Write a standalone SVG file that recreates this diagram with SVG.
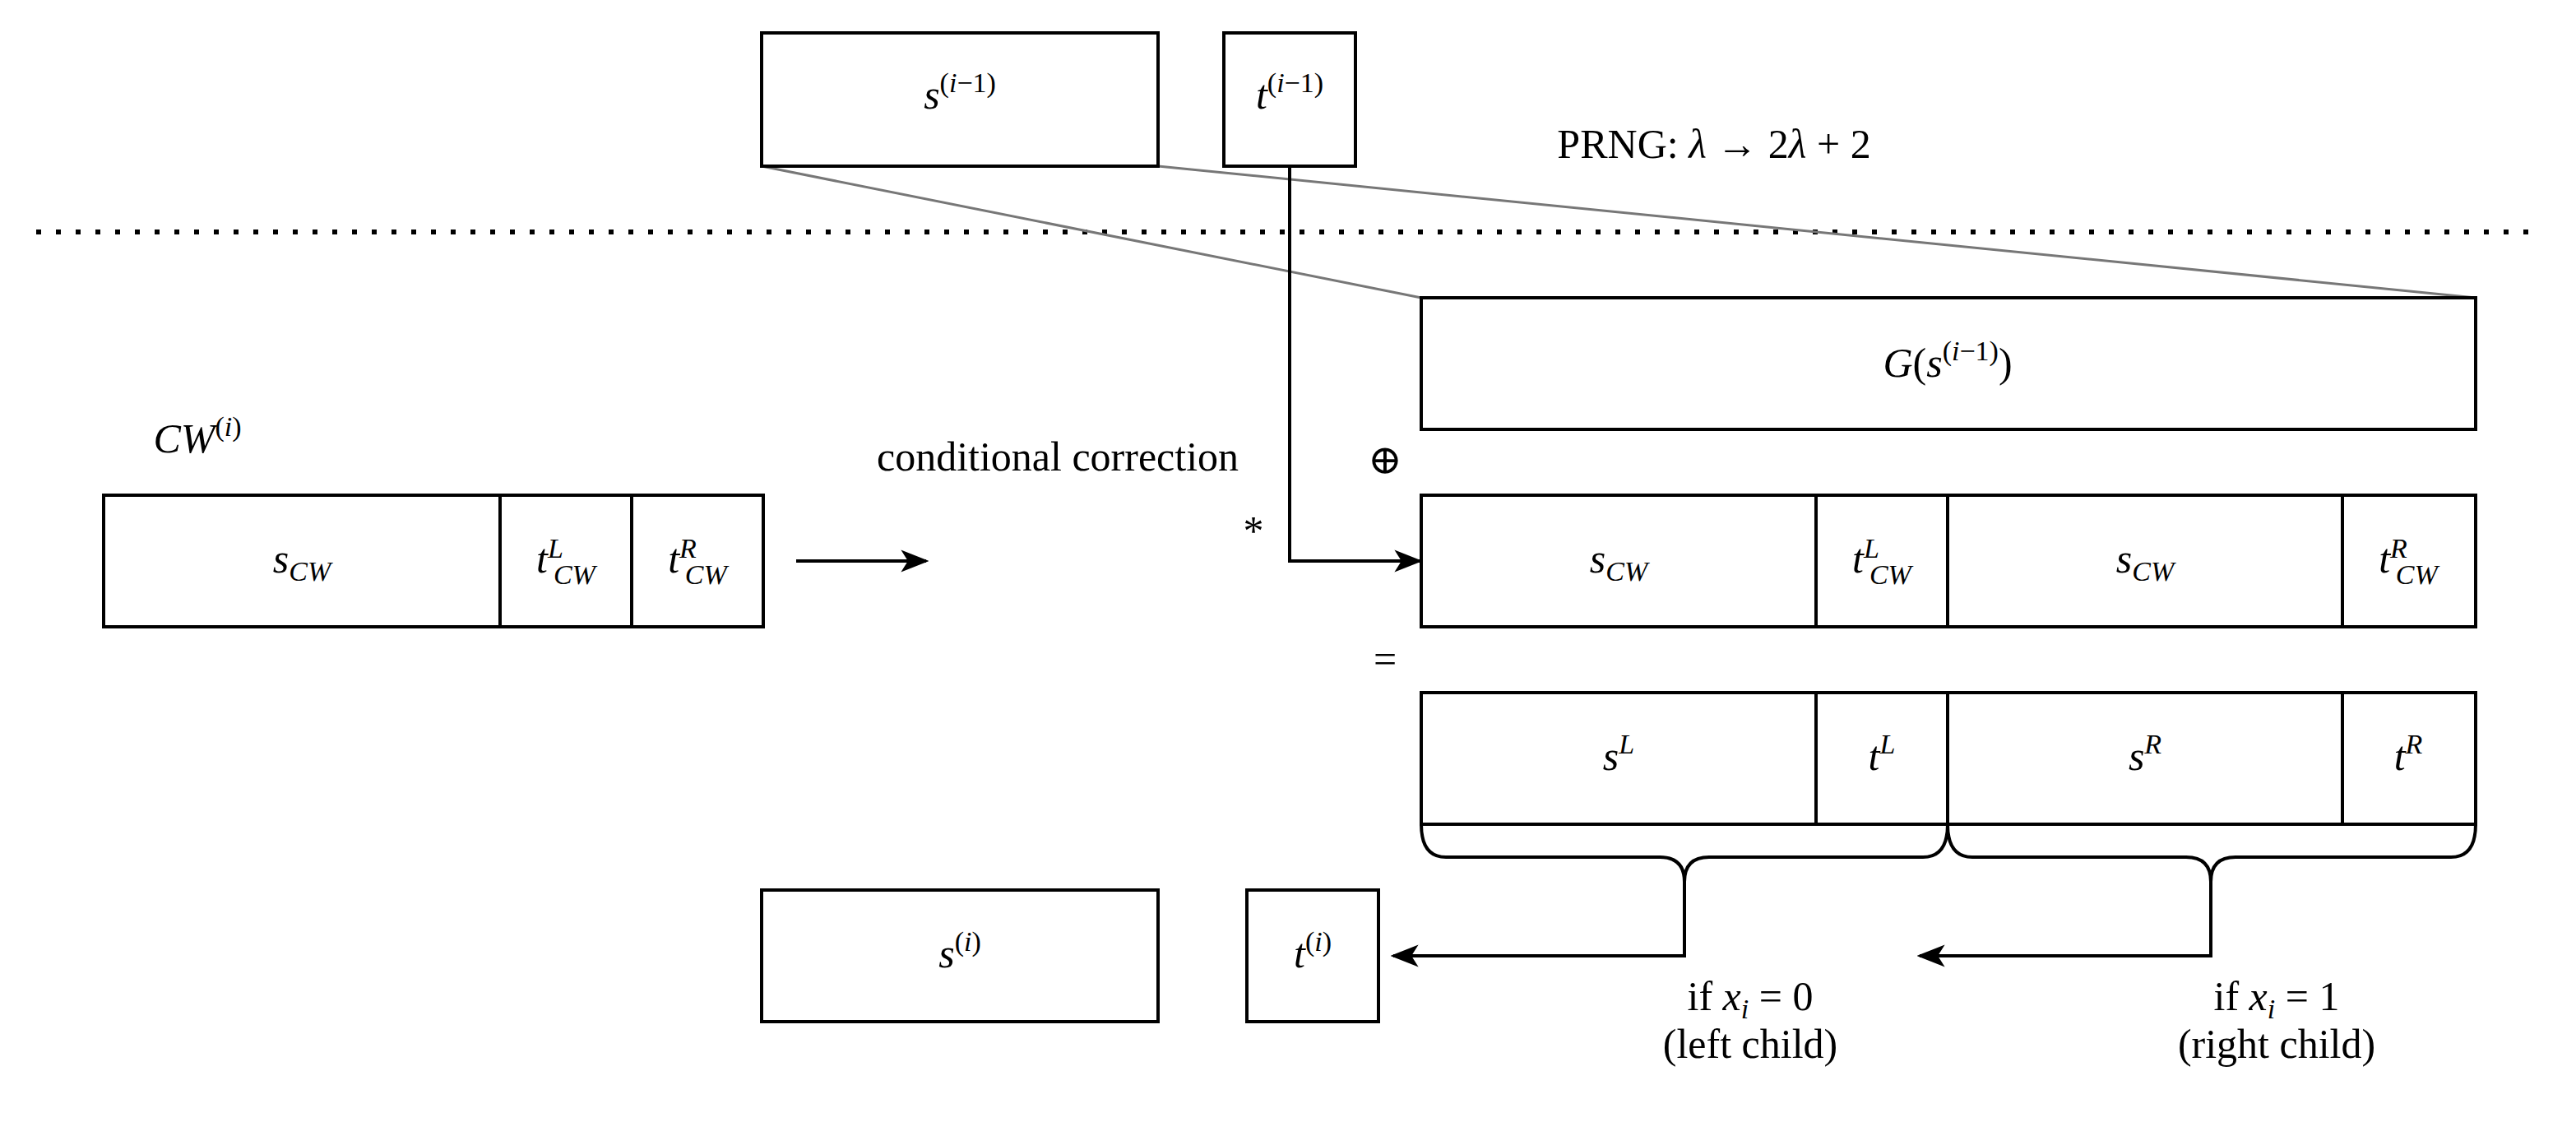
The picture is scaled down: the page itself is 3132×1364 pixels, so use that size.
<svg xmlns="http://www.w3.org/2000/svg" width="3132" height="1364" viewBox="0 0 3132 1364">
<style>
.b{fill:#fff;stroke:#000;stroke-width:4}
.d{stroke:#000;stroke-width:4;fill:none}
text{font-family:"Liberation Serif","DejaVu Serif",serif;font-size:50px;text-anchor:middle;fill:#000}
.i{font-style:italic}
.s{font-size:34px}
</style>
<defs><marker id="a" markerWidth="10" markerHeight="10" refX="9" refY="5" orient="auto" markerUnits="userSpaceOnUse" viewBox="0 0 10 10"><path d="M0,0L10,5L0,10L3,5Z" fill="#000" transform="scale(1)"/></marker>
<marker id="A" viewBox="0 0 20 20" markerWidth="34" markerHeight="34" refX="18" refY="10" orient="auto" markerUnits="userSpaceOnUse"><path d="M0,2L20,10L0,18L5,10Z" fill="#000"/></marker></defs>
<g id="connectors">
<line x1="44" y1="282" x2="3088" y2="282" stroke="#000" stroke-width="6" stroke-dasharray="6,18"/>
<line x1="926" y1="202" x2="1728" y2="362" stroke="#777" stroke-width="3"/>
<line x1="1408" y1="202" x2="3010" y2="362" stroke="#777" stroke-width="3"/>
<path class="d" d="M1568,202V682H1726" marker-end="url(#A)"/>
<path class="d" d="M968,682H1126" marker-end="url(#A)"/>
<path class="d" d="M1728,1002Q1728,1042 1758,1042H2018Q2048,1042 2048,1072V1162H1694" marker-end="url(#A)"/>
<path class="d" d="M2368,1002Q2368,1042 2338,1042H2078Q2048,1042 2048,1072"/>
<path class="d" d="M2368,1002Q2368,1042 2398,1042H2658Q2688,1042 2688,1072V1162H2334" marker-end="url(#A)"/>
<path class="d" d="M3010,1002Q3010,1042 2980,1042H2718Q2688,1042 2688,1072"/>
</g>
<g id="s_prev"><rect class="b" x="926" y="40" width="482" height="162"/><text x="1167" y="132"><tspan class="i">s</tspan><tspan class="s" dy="-20">(<tspan class="i">i</tspan>−1)</tspan></text></g>
<g id="t_prev"><rect class="b" x="1488" y="40" width="160" height="162"/><text x="1568" y="132"><tspan class="i">t</tspan><tspan class="s" dy="-20">(<tspan class="i">i</tspan>−1)</tspan></text></g>
<g id="prng"><text x="2084" y="192">PRNG: <tspan class="i">λ</tspan> → 2<tspan class="i">λ</tspan> + 2</text></g>
<g id="G"><rect class="b" x="1728" y="362" width="1282" height="160"/><text x="2368" y="458"><tspan class="i">G</tspan>(<tspan class="i">s</tspan><tspan class="s" dy="-20">(<tspan class="i">i</tspan>−1)</tspan><tspan dy="20">)</tspan></text></g>
<g id="cwlabel"><text x="240" y="550"><tspan class="i">CW</tspan><tspan class="s" dy="-20">(<tspan class="i">i</tspan>)</tspan></text></g>
<g id="cw"><rect class="b" x="126" y="602" width="802" height="160"/><line class="d" x1="608" y1="602" x2="608" y2="762"/><line class="d" x1="768" y1="602" x2="768" y2="762"/>
<text x="367" y="696"><tspan class="i">s</tspan><tspan class="s i" dy="10">CW</tspan></text>
<text x="688" y="696"><tspan class="i">t</tspan><tspan class="s i" dy="-18">L</tspan><tspan class="s i" dx="-12" dy="32">CW</tspan></text>
<text x="848" y="696"><tspan class="i">t</tspan><tspan class="s i" dy="-18">R</tspan><tspan class="s i" dx="-14" dy="32">CW</tspan></text></g>
<g id="cc"><text x="1286" y="572">conditional correction</text><text x="1524" y="662">*</text><text x="1684" y="576">⊕</text><text x="1684" y="818">=</text></g>
<g id="row2"><rect class="b" x="1728" y="602" width="1282" height="160"/><line class="d" x1="2208" y1="602" x2="2208" y2="762"/><line class="d" x1="2368" y1="602" x2="2368" y2="762"/><line class="d" x1="2848" y1="602" x2="2848" y2="762"/>
<text x="1968" y="696"><tspan class="i">s</tspan><tspan class="s i" dy="10">CW</tspan></text>
<text x="2288" y="696"><tspan class="i">t</tspan><tspan class="s i" dy="-18">L</tspan><tspan class="s i" dx="-12" dy="32">CW</tspan></text>
<text x="2608" y="696"><tspan class="i">s</tspan><tspan class="s i" dy="10">CW</tspan></text>
<text x="2928" y="696"><tspan class="i">t</tspan><tspan class="s i" dy="-18">R</tspan><tspan class="s i" dx="-14" dy="32">CW</tspan></text></g>
<g id="row3"><rect class="b" x="1728" y="842" width="1282" height="160"/><line class="d" x1="2208" y1="842" x2="2208" y2="1002"/><line class="d" x1="2368" y1="842" x2="2368" y2="1002"/><line class="d" x1="2848" y1="842" x2="2848" y2="1002"/>
<text x="1968" y="936"><tspan class="i">s</tspan><tspan class="s i" dy="-20">L</tspan></text>
<text x="2288" y="936"><tspan class="i">t</tspan><tspan class="s i" dy="-20">L</tspan></text>
<text x="2608" y="936"><tspan class="i">s</tspan><tspan class="s i" dy="-20">R</tspan></text>
<text x="2928" y="936"><tspan class="i">t</tspan><tspan class="s i" dy="-20">R</tspan></text></g>
<g id="s_i"><rect class="b" x="926" y="1082" width="482" height="160"/><text x="1167" y="1176"><tspan class="i">s</tspan><tspan class="s" dy="-20">(<tspan class="i">i</tspan>)</tspan></text></g>
<g id="t_i"><rect class="b" x="1516" y="1082" width="160" height="160"/><text x="1596" y="1176"><tspan class="i">t</tspan><tspan class="s" dy="-20">(<tspan class="i">i</tspan>)</tspan></text></g>
<g id="lbl"><text x="2128" y="1228">if <tspan class="i">x</tspan><tspan class="s i" dy="10">i</tspan><tspan dy="-10"> = 0</tspan></text><text x="2128" y="1286">(left child)</text>
<text x="2768" y="1228">if <tspan class="i">x</tspan><tspan class="s i" dy="10">i</tspan><tspan dy="-10"> = 1</tspan></text><text x="2768" y="1286">(right child)</text></g>
</svg>
